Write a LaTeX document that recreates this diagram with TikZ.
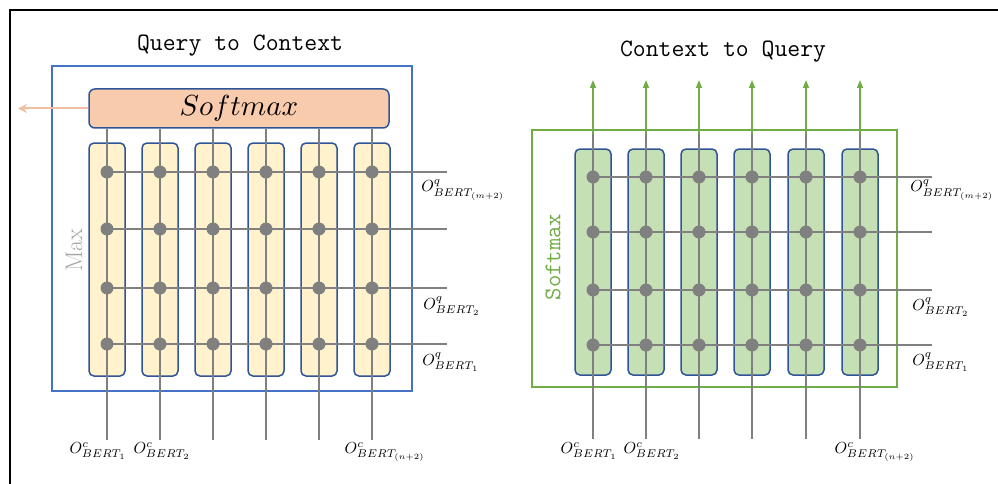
\documentclass[tikz,border=0pt]{standalone}
\usepackage{amsmath}
\usepackage{graphicx}
\usetikzlibrary{positioning,arrows.meta,calc}

\definecolor{frameblue}{HTML}{4472C4}
\definecolor{boxblue}{HTML}{2F5597}
\definecolor{colyellow}{HTML}{FFF2CC}
\definecolor{colgreen}{HTML}{C5E0B4}
\definecolor{framegreen}{HTML}{70AD47}
\definecolor{peach}{HTML}{F8CBAD}
\definecolor{peacharrow}{HTML}{F1BFA0}
\definecolor{wiregray}{HTML}{808080}
\definecolor{maxgray}{HTML}{A6A6A6}

\tikzset{
  colbox/.style={draw=boxblue, line width=1.5pt, rounded corners=5pt,
    minimum width=36pt, inner sep=0pt},
  wire/.style={draw=wiregray, line width=2pt},
  dot/.style={circle, fill=wiregray, minimum size=13pt, inner sep=0pt},
  headtext/.style={font=\fontsize{25}{28}\selectfont\ttfamily},
  lbl/.style={scale=1.6, inner sep=0pt},
}

\begin{document}
\begin{tikzpicture}[x=1pt, y=-1pt]
    \useasboundingbox (0,0) rectangle (998,484);
    % outer frame
    \draw[line width=1.2pt] (10,484) -- (10,10) -- (998,10);

    % ---- Query to Context ----
    \node[headtext] (qtitle) at (240,46) {Query to Context};
    \draw[frameblue, line width=2pt] (52,66) rectangle (412,391);
    \node[draw=boxblue, fill=peach, line width=1.5pt, rounded corners=6pt,
          minimum width=300pt, minimum height=39pt, inner sep=0pt] (qsmax) at (239,108.5)
          {\scalebox{2.9}{$Softmax$}};
    \coordinate (qout) at (18,108.5);
    \draw[peacharrow, line width=2pt, -{Stealth[length=9pt,width=9pt]}] (qsmax.west) -- (qout);
    \node[rotate=90, text=maxgray, font=\fontsize{24}{26}\selectfont] (qmax) at (74,250) {Max};

    \foreach \i/\x in {1/107,2/160,3/213,4/266,5/319,6/372} {
        \node[colbox, fill=colyellow, minimum height=233pt] (qc\i) at (\x,259.5) {};
    }
    \foreach \j/\y in {1/344,2/288,3/229,4/172}
        \coordinate (qr\j) at (447,\y);
    \foreach \i/\x in {1/107,2/160,3/213,4/266,5/319,6/372} {
        \coordinate (qb\i) at (\x,440);
        \draw[wire] (qc\i |- qsmax.south) -- (qb\i);
    }
    \foreach \j in {1,...,4}
        \draw[wire] (qc1 |- qr\j) -- (qr\j);
    \foreach \i in {1,...,6}
        \foreach \j in {1,...,4}
            \node[dot] (qd\i\j) at (qc\i |- qr\j) {};

    \node[lbl, anchor=west] (qq4) at (421,190) {$O^{q}_{BERT_{(m+2)}}$};
    \node[lbl, anchor=west] (qq2) at (423,306) {$O^{q}_{BERT_{2}}$};
    \node[lbl, anchor=west] (qq1) at (422,362) {$O^{q}_{BERT_{1}}$};
    \node[lbl] (qk1) at (98,451) {$O^{c}_{BERT_{1}}$};
    \node[lbl] (qk2) at (162,451) {$O^{c}_{BERT_{2}}$};
    \node[lbl] (qk6) at (385,452) {$O^{c}_{BERT_{(n+2)}}$};

    % ---- Context to Query ----
    \node[headtext] (ktitle) at (723,52) {Context to Query};
    \draw[framegreen, line width=2pt] (532,130) rectangle (897,387);
    \node[rotate=90, text=framegreen, font=\fontsize{24}{26}\selectfont\ttfamily] (ksmax) at (553,257) {Softmax};

    \foreach \i/\x in {1/593,2/646,3/699,4/752,5/806,6/860} {
        \node[colbox, fill=colgreen, minimum height=226pt] (kc\i) at (\x,262) {};
    }
    \foreach \j/\y in {1/345,2/290,3/232,4/177}
        \coordinate (kr\j) at (932,\y);
    \foreach \i/\x in {1/593,2/646,3/699,4/752,5/806,6/860} {
        \coordinate (kt\i) at (\x,134);
        \coordinate (ka\i) at (\x,80);
        \coordinate (kb\i) at (\x,439);
        \draw[wire] (kt\i) -- (kb\i);
        \draw[framegreen, line width=1.6pt, -{Triangle[length=8pt,width=6pt]}] (kt\i) -- (ka\i);
    }
    \foreach \j in {1,...,4}
        \draw[wire] (kc1 |- kr\j) -- (kr\j);
    \foreach \i in {1,...,6}
        \foreach \j in {1,...,4}
            \node[dot] (kd\i\j) at (kc\i |- kr\j) {};

    \node[lbl, anchor=west] (kq4) at (910,190) {$O^{q}_{BERT_{(m+2)}}$};
    \node[lbl, anchor=west] (kq2) at (912,307) {$O^{q}_{BERT_{2}}$};
    \node[lbl, anchor=west] (kq1) at (912,362) {$O^{q}_{BERT_{1}}$};
    \node[lbl] (kk1) at (589,451) {$O^{c}_{BERT_{1}}$};
    \node[lbl] (kk2) at (652,451) {$O^{c}_{BERT_{2}}$};
    \node[lbl] (kk6) at (875,452) {$O^{c}_{BERT_{(n+2)}}$};
\end{tikzpicture}
\end{document}
